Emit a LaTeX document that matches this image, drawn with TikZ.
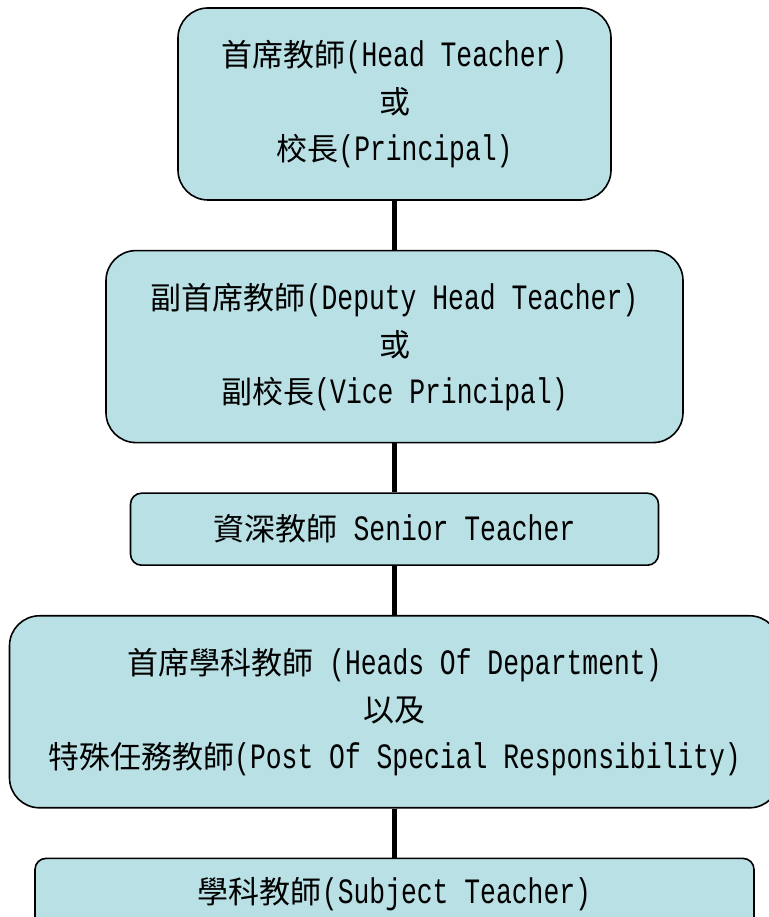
\documentclass[tikz,border=0pt]{standalone}
\usepackage{fontspec}
\setmainfont{Liberation Mono}[Scale=1.15,FakeStretch=0.74]
\newfontfamily\cjk{Noto Sans CJK TC}
\newcommand{\zh}[1]{{\cjk #1}}
\usetikzlibrary{positioning}
\definecolor{boxfill}{RGB}{185,224,228}

\begin{document}
\begin{tikzpicture}[node distance=49pt,
   rank/.style={draw=black,line width=1.6pt,fill=boxfill,rounded corners=30pt,
      inner sep=0pt,align=center,font=\fontsize{31}{47}\selectfont},
   bigrank/.style={rank,minimum height=192pt},
   smallrank/.style={rank,minimum height=72pt,rounded corners=11pt},
   link/.style={line width=5pt}]
   \useasboundingbox (0,0) rectangle (768pt,917pt);
   \node[bigrank,minimum width=433pt] (head) at (394.5pt,813pt)
      {\zh{首席教師}(Head Teacher)\\ \zh{或}\\ \zh{校長}(Principal)};
   \node[bigrank,minimum width=577pt] (deputy) [below=of head]
      {\zh{副首席教師}(Deputy Head Teacher)\\ \zh{或}\\ \zh{副校長}(Vice Principal)};
   \node[smallrank,minimum width=528pt] (senior) [below=of deputy]
      {\zh{資深教師} Senior Teacher};
   \node[bigrank,minimum width=770pt] (hod) [below=of senior]
      {\zh{首席學科教師} (Heads Of Department)\\ \zh{以及}\\
       \zh{特殊任務教師}(Post Of Special Responsibility)};
   \node[smallrank,minimum width=719pt] (subject) [below=of hod]
      {\zh{學科教師}(Subject Teacher)};
    \path[link]
    (head) edge (deputy)
    (deputy) edge (senior)
    (senior) edge (hod)
    (hod) edge (subject);
\end{tikzpicture}
\end{document}
